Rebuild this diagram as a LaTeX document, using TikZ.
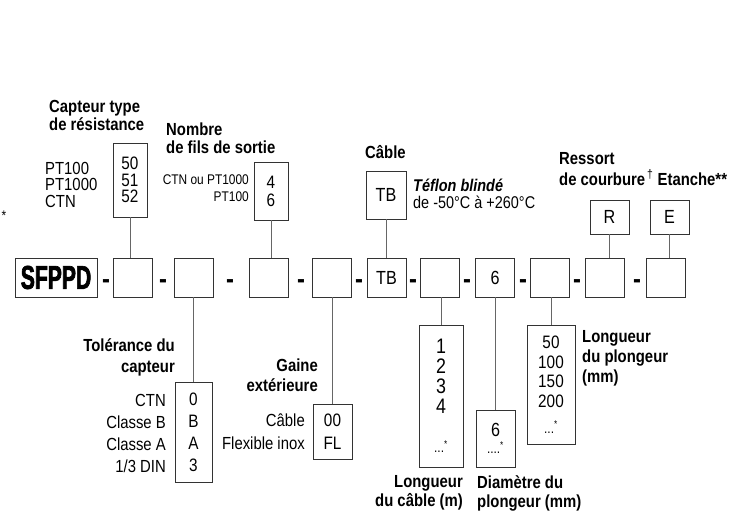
\documentclass[tikz,border=0pt]{standalone}
\usepackage{fontspec}
\setmainfont{Liberation Sans}[FakeStretch=0.85]
\newfontfamily\logofont{Liberation Sans}[FakeStretch=0.64,BoldFeatures={FakeBold=2}]

\begin{document}
\begin{tikzpicture}[x=1pt,y=-1pt,
  box/.style={draw=black!80,line width=0.8pt,inner sep=0pt,minimum width=39pt,minimum height=39pt,font=\fontsize{19}{16}\selectfont},
  opt/.style={draw=black!80,line width=0.8pt,inner sep=0pt,align=center},
  link/.style={black!60,line width=0.9pt},
  ttl/.style={inner sep=0pt,font=\bfseries\fontsize{17.5}{18}\selectfont},
  lab/.style={inner sep=0pt,font=\fontsize{17.5}{16.5}\selectfont},
  hyph/.style={inner sep=0pt,anchor=base,font=\bfseries\fontsize{28}{28}\selectfont}]
\useasboundingbox (0,0) rectangle (732,516);

% reference code row
\node[box,minimum width=82pt,font=\logofont\bfseries\fontsize{33}{33}\selectfont] (sfppd) at (56,277.5) {SFPPD};
\node[box] (b1) at (132.5,277.5) {};
\node[box] (b2) at (193.5,277.5) {};
\node[box] (b3) at (268.5,277.5) {};
\node[box] (b4) at (331.5,277.5) {};
\node[box] (b5) at (386.5,277.5) {TB};
\node[box] (b6) at (440,277.5) {};
\node[box] (b7) at (495,277.5) {6};
\node[box] (b8) at (549.5,277.5) {};
\node[box] (b9) at (605,277.5) {};
\node[box] (b10) at (666,277.5) {};
\foreach \x [count=\i] in {106,163,230,301,359,413,467,523,577,637}
  \node[hyph] (d\i) at (\x,288.5) {-};

\node[inner sep=0pt,anchor=base,font=\fontsize{14}{14}\selectfont] (st) at (4,221) {*};

% options above
\node[ttl,anchor=north west,align=left] (t1) at (49,100) {Capteur type\\de résistance};
\node[opt,minimum width=34pt,minimum height=74pt,font=\fontsize{18}{16.5}\selectfont] (o1) at (130,180) {50\\51\\52};
\node[lab,anchor=north west,align=left] (l1) at (45,162) {PT100\\PT1000\\CTN};

\node[ttl,anchor=north west,align=left] (t2) at (166,123) {Nombre\\de fils de sortie};
\node[opt,minimum width=34pt,minimum height=58pt,font=\fontsize{18}{18}\selectfont] (o2) at (271,191) {4\\6};
\node[lab,anchor=north east,align=right,font=\fontsize{14}{16.5}\selectfont] (l2) at (249,175) {CTN ou PT1000\\PT100};

\node[ttl,anchor=base west] (t3) at (365,159) {Câble};
\node[opt,minimum width=40pt,minimum height=48pt,font=\fontsize{19}{19}\selectfont] (o3) at (386,195) {TB};
\node[inner sep=0pt,anchor=north west,align=left,font=\fontsize{17}{17}\selectfont] (l3) at (413,179) {\textbf{\textit{Téflon blindé}}\\de -50°C à +260°C};

\node[ttl,anchor=north west,align=left,font=\bfseries\fontsize{17.5}{21}\selectfont] (t4) at (559,152) {Ressort\\de courbure\textsuperscript{\,\mdseries †} Etanche**};
\node[opt,minimum width=39pt,minimum height=34pt,font=\fontsize{19}{19}\selectfont] (o4) at (609.5,217) {R};
\node[opt,minimum width=39pt,minimum height=34pt,font=\fontsize{19}{19}\selectfont] (o5) at (669.5,217) {E};

% options below
\node[ttl,anchor=north east,align=right,font=\bfseries\fontsize{17.5}{21}\selectfont] (t6) at (175,338) {Tolérance du\\capteur};
\node[opt,minimum width=37pt,minimum height=100pt,font=\fontsize{18}{22}\selectfont] (o6) at (193.5,432) {0\\B\\A\\3};
\node[lab,anchor=north east,align=right,font=\fontsize{17.5}{22}\selectfont] (l6) at (166,394) {CTN\\Classe B\\Classe A\\1/3 DIN};

\node[ttl,anchor=north east,align=right,font=\bfseries\fontsize{17.5}{20}\selectfont] (t7) at (318,359) {Gaine\\extérieure};
\node[opt,minimum width=39pt,minimum height=55pt,font=\fontsize{18}{23}\selectfont] (o7) at (332.5,431.5) {00\\FL};
\node[lab,anchor=north east,align=right,font=\fontsize{17.5}{23}\selectfont] (l7) at (305,414) {Câble\\Flexible inox};

\node[opt,minimum width=44pt,minimum height=142pt,font=\fontsize{21}{20}\selectfont] (o8) at (441,396) {1\\2\\3\\4\\[19pt]{\fontsize{14}{14}\selectfont ...\textsuperscript{*}}};
\node[ttl,anchor=north east,align=right,font=\bfseries\fontsize{17.5}{19}\selectfont] (t8) at (463,475) {Longueur\\du câble (m)};

\node[opt,minimum width=39pt,minimum height=57pt,font=\fontsize{19}{17}\selectfont] (o9) at (495.5,438.5) {6\\{\fontsize{14}{14}\selectfont ....\textsuperscript{*}}};
\node[ttl,anchor=north west,align=left,font=\bfseries\fontsize{17.5}{19}\selectfont] (t9) at (477,475) {Diamètre du\\plongeur (mm)};

\node[opt,minimum width=48pt,minimum height=119pt,font=\fontsize{18}{19.7}\selectfont] (o10) at (551,384.5) {50\\100\\150\\200\\[6pt]{\fontsize{14}{14}\selectfont ...\textsuperscript{*}}};
\node[ttl,anchor=north west,align=left,font=\bfseries\fontsize{17.5}{20}\selectfont] (t10) at (582,330) {Longueur\\du plongeur\\(mm)};

% connectors
\draw[link] (o1.south) -- (o1.south |- b1.north);
\draw[link] (o2.south) -- (o2.south |- b3.north);
\draw[link] (o3.south) -- (o3.south |- b5.north);
\draw[link] (o4.south) -- (o4.south |- b9.north);
\draw[link] (o5.south) -- (o5.south |- b10.north);
\draw[link] (o6.north) -- (o6.north |- b2.south);
\draw[link] (o7.north) -- (o7.north |- b4.south);
\draw[link] (o8.north) -- (o8.north |- b6.south);
\draw[link] (o9.north) -- (o9.north |- b7.south);
\draw[link] (o10.north) -- (o10.north |- b8.south);
\end{tikzpicture}
\end{document}
